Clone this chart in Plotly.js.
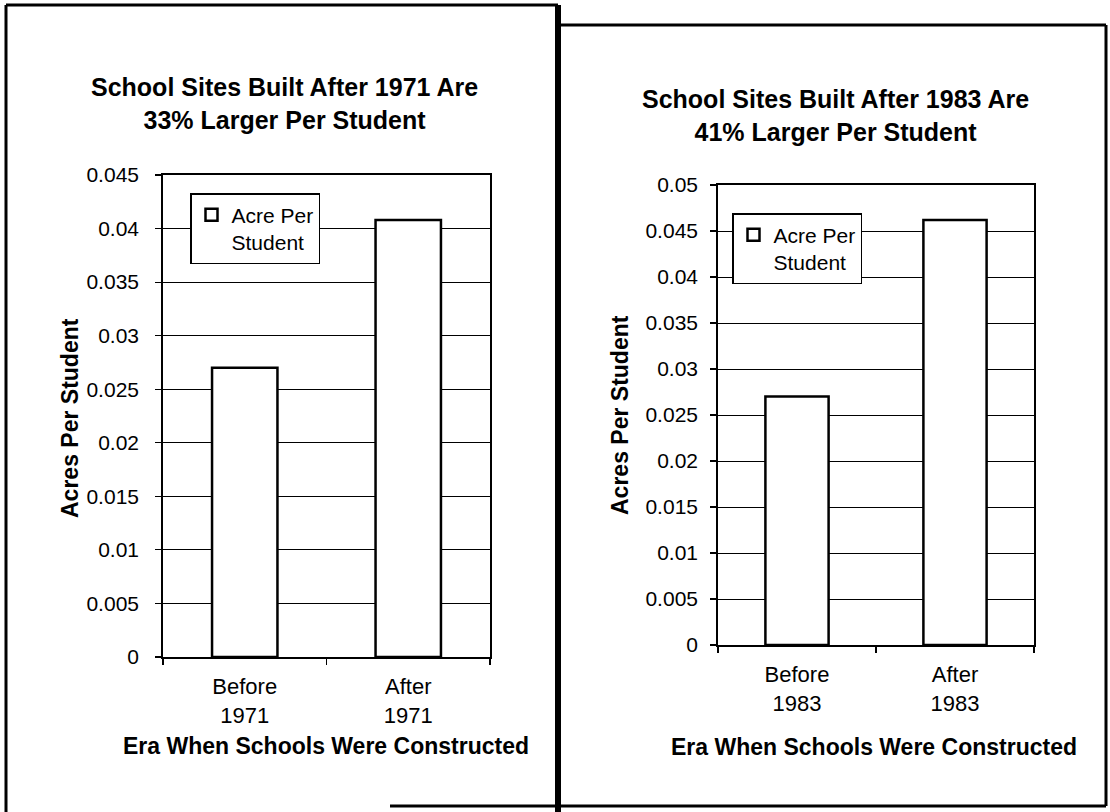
<!DOCTYPE html>
<html>
<head>
<meta charset="utf-8">
<script src="https://cdn.plot.ly/plotly-3.0.1.min.js"></script>
<style>
  html, body { margin: 0; padding: 0; background: #fff; }
  #chart { width: 1110px; height: 812px; }
</style>
</head>
<body>
<div id="chart"></div>
<script>
// Acreage of school sites per student, split by construction era
const categoriesA = ["Before<br>1971", "After<br>1971"];
const acresA = [0.0270, 0.0408];
const categoriesB = ["Before<br>1983", "After<br>1983"];
const acresB = [0.0270, 0.0462];
const seriesName = "Acre Per<br>Student";
const titleA = "School Sites Built After 1971 Are<br>33% Larger Per Student";
const titleB = "School Sites Built After 1983 Are<br>41% Larger Per Student";
const xTitle = "Era When Schools Were Constructed";
const yTitle = "Acres Per Student";

const W = 1110, H = 812;
const px = v => v / W;          // pixel column -> paper x
const py = v => 1 - v / H;      // pixel row -> paper y
const FONT = "Liberation Sans, Arial, Helvetica, sans-serif";

const barStyle = { color: "#ffffff", line: { color: "#000000", width: 2.5 } };

const traces = [
  { type: "bar", x: categoriesA, y: acresA, name: seriesName, marker: barStyle,
    xaxis: "x", yaxis: "y", legend: "legend", hoverinfo: "x+y" },
  { type: "bar", x: categoriesB, y: acresB, name: seriesName, marker: barStyle,
    xaxis: "x2", yaxis: "y2", legend: "legend2", hoverinfo: "x+y" }
];

function xAxis(domain, anchor) {
  return {
    domain: domain, anchor: anchor, type: "category", showgrid: false,
    showline: true, linecolor: "#000", linewidth: 1.8, mirror: true,
    ticks: "outside", tickson: "boundaries", ticklen: 6, tickcolor: "#000", tickwidth: 1.2,
    ticklabelstandoff: 9,
    tickfont: { family: FONT, size: 22, color: "#000" },
    fixedrange: true
  };
}
function yAxis(domain, anchor, max, standoff) {
  return {
    domain: domain, anchor: anchor, range: [0, max], dtick: 0.005, tick0: 0,
    showgrid: true, gridcolor: "#000", gridwidth: 1, zeroline: false,
    showline: true, linecolor: "#000", linewidth: 1.8, mirror: true,
    ticks: "outside", ticklen: 6, tickcolor: "#000", tickwidth: 1.2,
    ticklabelstandoff: standoff,
    tickfont: { family: FONT, size: 21, color: "#000" },
    fixedrange: true
  };
}
function legendBox(x, y) {
  return {
    x: px(x), y: py(y), xanchor: "left", yanchor: "top", xref: "paper", yref: "paper",
    bgcolor: "#ffffff", bordercolor: "#000", borderwidth: 1.5,
    valign: "top", itemwidth: 30,
    font: { family: FONT, size: 21, color: "#000" }
  };
}
function line(x0, y0, x1, y1, w) {
  return { type: "line", xref: "paper", yref: "paper",
           x0: px(x0), y0: py(y0), x1: px(x1), y1: py(y1),
           line: { color: "#000", width: w } };
}
function text(t, x, y, size, angle) {
  return { text: t, xref: "paper", yref: "paper", x: px(x), y: py(y),
           xanchor: "center", yanchor: "middle", showarrow: false, textangle: angle || 0,
           font: { family: FONT, size: size, color: "#000", weight: "bold" } };
}

const layout = {
  width: W, height: H,
  margin: { l: 0, r: 0, t: 0, b: 0 },
  paper_bgcolor: "#ffffff", plot_bgcolor: "#ffffff",
  bargap: 0.6,
  xaxis: xAxis([px(163), px(490)], "y"),
  yaxis: yAxis([py(657), py(175)], "x", 0.045, 12),
  xaxis2: xAxis([px(718), px(1034)], "y2"),
  yaxis2: yAxis([py(645), py(185)], "x2", 0.05, 8),
  legend: legendBox(190, 193),
  legend2: legendBox(732, 213),
  annotations: [
    text(titleA, 284, 103, 25),
    text(titleB, 835, 115, 25),
    text(xTitle, 326, 746, 23),
    text(xTitle, 874, 747, 23),
    text(yTitle, 70, 418, 23, -90),
    text(yTitle, 620, 415, 23, -90)
  ],
  shapes: [
    // left panel frame
    line(6, 5, 6, 812, 3),
    line(6, 5, 558, 5, 3),
    line(558, 5, 558, 812, 6),
    // right panel frame
    line(558, 25, 1106, 25, 3),
    line(1106, 25, 1106, 806, 3),
    line(390, 806, 1106, 806, 3)
  ],
  showlegend: true
};

Plotly.newPlot("chart", traces, layout, { displayModeBar: false, staticPlot: true });
</script>
</body>
</html>
